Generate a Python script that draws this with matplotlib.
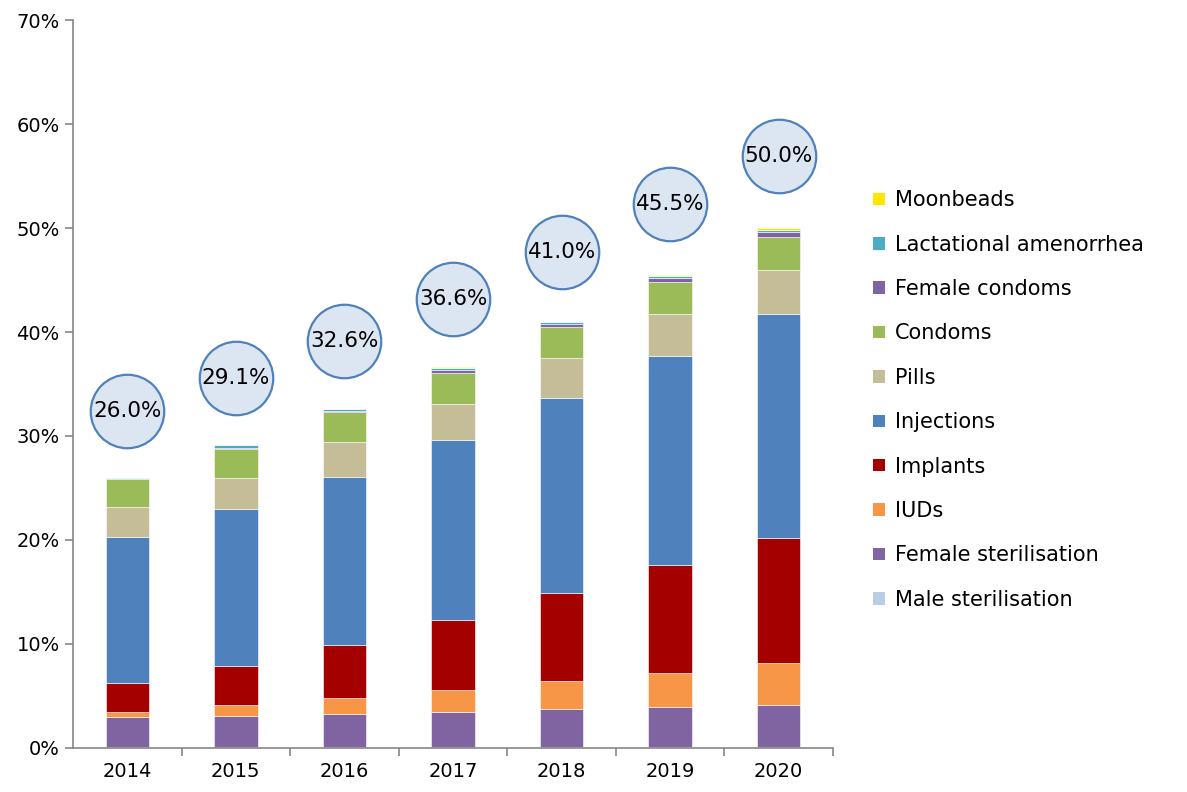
import matplotlib.pyplot as plt
import numpy as np
from matplotlib.patches import Patch
from matplotlib.ticker import PercentFormatter

years = ['2014', '2015', '2016', '2017', '2018', '2019', '2020']

methods = ['Male sterilisation', 'Female sterilisation', 'IUDs', 'Implants', 'Injections',
           'Pills', 'Condoms', 'Female condoms', 'Lactational amenorrhea', 'Moonbeads']

# share of women using each method (%)
male_sterilisation = [0.1, 0.1, 0.1, 0.1, 0.1, 0.1, 0.1]
female_sterilisation = [2.9, 3.0, 3.2, 3.4, 3.65, 3.85, 4.05]
iuds = [0.5, 1.0, 1.5, 2.05, 2.65, 3.3, 4.0]
implants = [2.7, 3.8, 5.1, 6.75, 8.5, 10.3, 12.0]
injections = [14.1, 15.05, 16.2, 17.3, 18.8, 20.1, 21.6]
pills = [2.9, 3.05, 3.3, 3.5, 3.8, 4.1, 4.2]
condoms = [2.7, 2.75, 2.9, 3.0, 3.0, 3.1, 3.2]
female_condoms = [0.0, 0.1, 0.1, 0.2, 0.3, 0.3, 0.5]
lactational = [0.1, 0.25, 0.2, 0.2, 0.15, 0.2, 0.2]
moonbeads = [0.0, 0.0, 0.0, 0.1, 0.05, 0.15, 0.15]

series = [male_sterilisation, female_sterilisation, iuds, implants, injections,
          pills, condoms, female_condoms, lactational, moonbeads]
colors = ['#B9CDE5', '#8064A2', '#F79646', '#A50000', '#4F81BD',
          '#C4BD97', '#9BBB59', '#8064A2', '#4BACC6', '#FFE600']

fig = plt.figure(figsize=(11.87, 7.92), dpi=100)
ax = fig.add_axes([0.0615, 0.0556, 0.6403, 0.9191])

x = np.arange(len(years))
bottom = np.zeros(len(years))
for vals, col, name in zip(series, colors, methods):
    ax.bar(x, vals, width=0.4, bottom=bottom, color=col, edgecolor='white',
           linewidth=0.4, label=name)
    bottom += np.array(vals)

# total bubbles above each bar
bubble_y = bottom + 6.4 + 0.02 * (bottom - bottom[0])
ax.scatter(x, bubble_y, s=2800, facecolor='#DCE6F2', edgecolor='#4F81BD',
           linewidth=1.6, zorder=3, clip_on=False)
for xi, yi, tot in zip(x, bubble_y, bottom):
    ax.text(xi, yi, f'{tot:.1f}%', ha='center', va='center', fontsize=15.5, zorder=4)

ax.set_xlim(-0.5, len(years) - 0.5)
ax.set_ylim(0, 70)
ax.set_yticks(np.arange(0, 71, 10))
ax.yaxis.set_major_formatter(PercentFormatter(decimals=0))
ax.set_xticks(x)
ax.set_xticklabels(years)
ax.set_xticks(np.arange(0.5, len(years)), minor=True)
ax.tick_params(axis='x', which='major', length=0, labelsize=14, pad=10)
ax.tick_params(axis='x', which='minor', length=6, color='#868686', width=1.2)
ax.tick_params(axis='y', length=6, color='#868686', labelsize=14, width=1.2)

for side in ['top', 'right']:
    ax.spines[side].set_visible(False)
for side in ['left', 'bottom']:
    ax.spines[side].set_color('#868686')
    ax.spines[side].set_linewidth(1.2)

handles = [Patch(facecolor=c, label=m) for m, c in zip(methods, colors)]
fig.legend(handles=handles[::-1], loc='center left', bbox_to_anchor=(0.72, 0.495),
           frameon=False, fontsize=15, labelspacing=1.17, handlelength=0.55,
           handleheight=0.55, handletextpad=0.5)

fig.savefig('out.png', dpi=100)
